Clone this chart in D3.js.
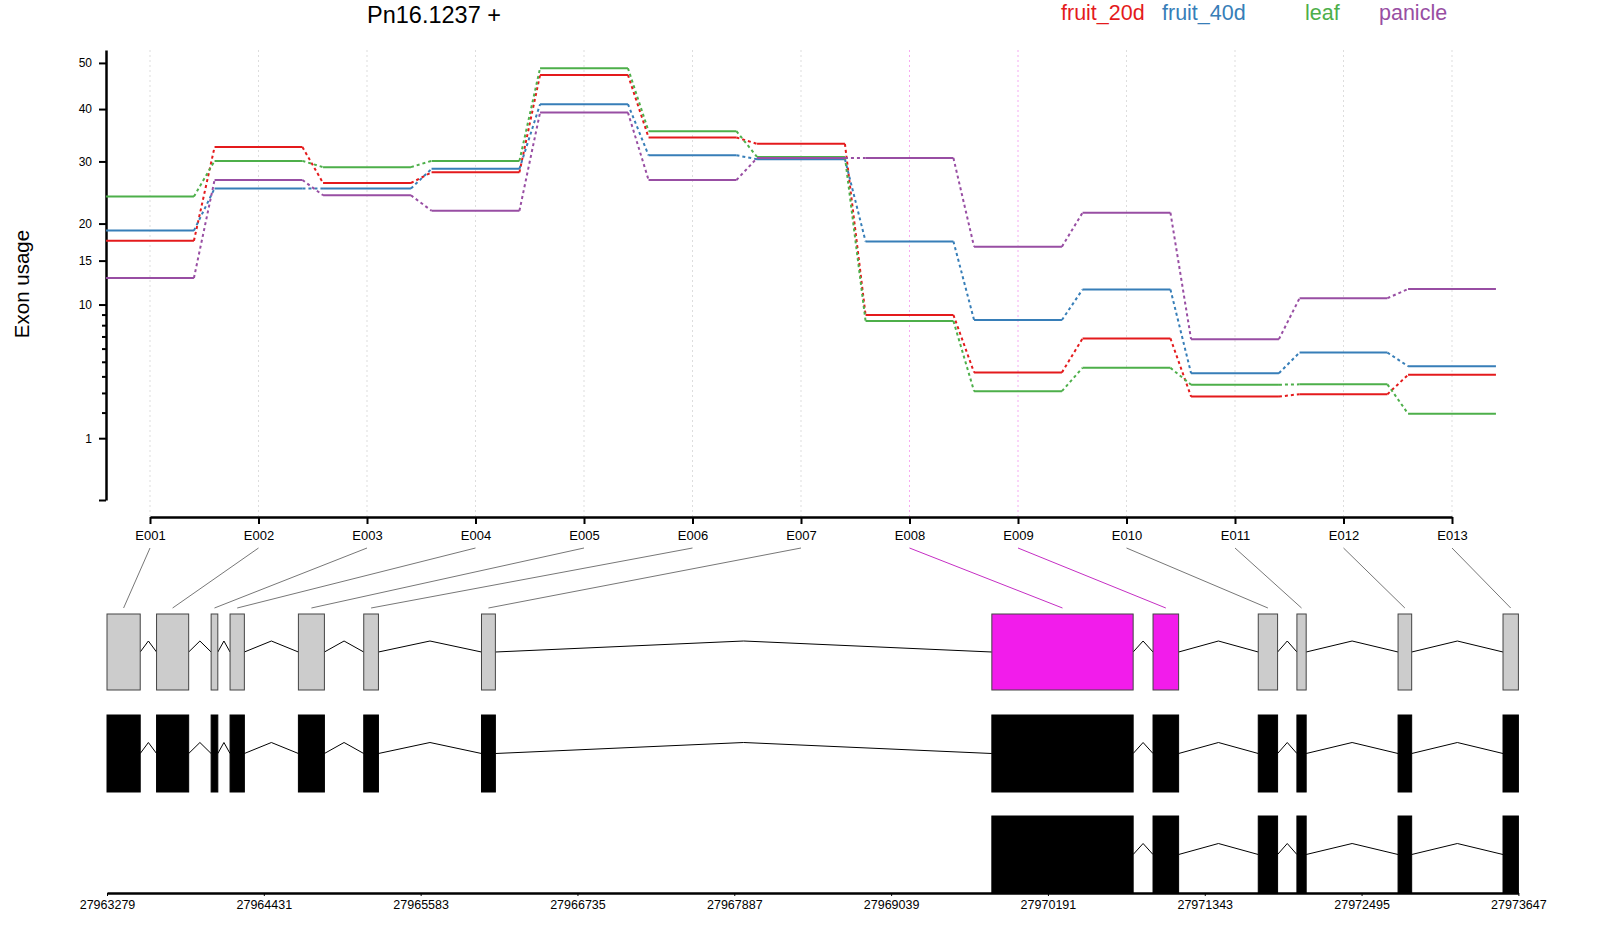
<!DOCTYPE html>
<html>
<head>
<meta charset="utf-8">
<script src="https://cdn.jsdelivr.net/npm/d3@7"></script>
<style>
  html, body { margin: 0; padding: 0; background: #fff; }
  svg { display: block; font-family: "Liberation Sans", Arial, Helvetica, sans-serif; }
</style>
</head>
<body>
<div id="chart"></div>
<script>
// exon bins and per-tissue usage
const exonIds = ['E001', 'E002', 'E003', 'E004', 'E005', 'E006', 'E007', 'E008', 'E009', 'E010', 'E011', 'E012', 'E013'];
const fruit20d = [17.6, 32.6, 26.3, 28.1, 47.3, 34.4, 33.2, 8.96, 4.26, 6.83, 2.80, 2.93, 4.10];
const fruit40d = [19.0, 25.4, 25.4, 28.7, 41.0, 31.1, 30.4, 17.5, 8.48, 11.6, 4.21, 5.69, 4.68];
const leaf = [24.1, 30.1, 29.0, 30.1, 48.8, 35.6, 30.8, 8.38, 3.10, 4.57, 3.48, 3.50, 1.95];
const panicle = [12.9, 26.8, 24.3, 21.9, 39.3, 26.8, 30.6, 30.6, 16.8, 21.6, 6.77, 10.66, 11.65];

const seriesNames = ['fruit_20d', 'fruit_40d', 'leaf', 'panicle'];
const seriesColors = ['#E41A1C', '#377EB8', '#4DAF4A', '#984EA3'];

// genomic coordinates of exon bins
const exonStart = [27963279, 27963643, 27964044, 27964183, 27964685, 27965165, 27966030, 27969779, 27970963, 27971736, 27972020, 27972763, 27973534];
const exonEnd = [27963523, 27963879, 27964093, 27964288, 27964876, 27965273, 27966132, 27970817, 27971151, 27971878, 27972088, 27972863, 27973647];
const significant = ['E008', 'E009'];

// transcripts (indexes into the exon arrays)
const transcripts = [
  [0, 1, 2, 3, 4, 5, 6, 7, 8, 9, 10, 11, 12],
  [7, 8, 9, 10, 11, 12],
];

const yMajorTicks = [0, 1, 10, 15, 20, 30, 40, 50];
const yMinorTicks = [2, 3, 4, 5, 6, 7, 8, 9];
const genomeTicks = [27963279, 27964431, 27965583, 27966735, 27967887, 27969039, 27970191, 27971343, 27972495, 27973647];

const width = 1600, height = 930;
const SIG = '#F21CEB';

const svg = d3.select('#chart').append('svg')
  .attr('width', width)
  .attr('height', height);

const x = d3.scalePoint().domain(exonIds).range([150, 1452]);
const y = d3.scaleSqrt().domain([0, 53]).range([500, 50]);
const half = x.step() * 0.405;

// title + legend
svg.append('text')
  .attr('x', 434).attr('y', 23)
  .attr('text-anchor', 'middle')
  .attr('font-size', 23.5)
  .text('Pn16.1237 +');

const legendX = [1061, 1162, 1305, 1379];
svg.append('g').selectAll('text')
  .data(seriesNames)
  .join('text')
  .attr('x', (d, i) => legendX[i])
  .attr('y', 20)
  .attr('font-size', 21.5)
  .attr('fill', (d, i) => seriesColors[i])
  .text(d => d);

// y label
svg.append('text')
  .attr('transform', 'translate(29,284) rotate(-90)')
  .attr('text-anchor', 'middle')
  .attr('font-size', 20.5)
  .text('Exon usage');

// vertical grid
svg.append('g').selectAll('line')
  .data(exonIds)
  .join('line')
  .attr('x1', d => x(d)).attr('x2', d => x(d))
  .attr('y1', 50).attr('y2', 516)
  .attr('stroke', d => significant.includes(d) ? '#F7A8F2' : '#dddddd')
  .attr('stroke-width', 1)
  .attr('stroke-dasharray', '2,3');

// y axis
const yAxis = svg.append('g')
  .attr('transform', 'translate(106,0)')
  .call(d3.axisLeft(y).tickValues(yMajorTicks).tickSize(7).tickSizeOuter(0)
    .tickFormat(d => d === 0 ? '' : d));
yAxis.select('.domain').attr('stroke-width', 2.5);
yAxis.selectAll('.tick line').attr('stroke-width', 2);
yAxis.selectAll('text').attr('font-size', 12).attr('x', -14)
  .attr('font-family', '"Liberation Sans", Arial, sans-serif');

const yMinor = svg.append('g')
  .attr('transform', 'translate(106,0)')
  .call(d3.axisLeft(y).tickValues(yMinorTicks).tickSize(4).tickFormat(''));
yMinor.select('.domain').remove();
yMinor.selectAll('.tick line').attr('stroke-width', 2);

// x axis (exon bins)
const xAxis = svg.append('g')
  .attr('transform', 'translate(0,517)')
  .call(d3.axisBottom(x).tickSize(7).tickSizeOuter(0));
xAxis.select('.domain').attr('stroke-width', 2.5);
xAxis.selectAll('.tick line').attr('stroke-width', 2);
xAxis.selectAll('text').attr('font-size', 13).attr('y', 14)
  .attr('font-family', '"Liberation Sans", Arial, sans-serif');

// usage lines: solid per bin, dashed between bins
const allSeries = [fruit20d, fruit40d, leaf, panicle];
allSeries.forEach((vals, s) => {
  const g = svg.append('g').attr('stroke', seriesColors[s]).attr('fill', 'none').attr('stroke-width', 2);
  g.selectAll('line.flat')
    .data(vals)
    .join('line')
    .attr('class', 'flat')
    .attr('x1', (d, i) => x(exonIds[i]) - half)
    .attr('x2', (d, i) => x(exonIds[i]) + half)
    .attr('y1', d => y(d)).attr('y2', d => y(d));
  g.selectAll('line.step')
    .data(vals.slice(1))
    .join('line')
    .attr('class', 'step')
    .attr('x1', (d, i) => x(exonIds[i]) + half)
    .attr('y1', (d, i) => y(vals[i]))
    .attr('x2', (d, i) => x(exonIds[i + 1]) - half)
    .attr('y2', d => y(d))
    .attr('stroke-dasharray', '3,3');
});

// gene model
const gx = d3.scaleLinear().domain([genomeTicks[0], genomeTicks[genomeTicks.length - 1]]).range([107, 1518.4]);
const rows = [
  { top: 614, bottom: 690 },
  { top: 715, bottom: 792 },
  { top: 816, bottom: 893 },
];

// connector lines from bin labels to exons
svg.append('g').selectAll('line')
  .data(exonIds)
  .join('line')
  .attr('x1', d => x(d)).attr('y1', 548)
  .attr('x2', (d, i) => gx((exonStart[i] + exonEnd[i]) / 2)).attr('y2', 608)
  .attr('stroke', d => significant.includes(d) ? '#C52EC4' : '#777777')
  .attr('stroke-width', 1);

function drawModel(row, idx, colored) {
  const g = svg.append('g');
  const mid = (row.top + row.bottom) / 2;
  const introns = idx.slice(1).map((e, k) => [idx[k], e]);
  g.selectAll('path')
    .data(introns)
    .join('path')
    .attr('fill', 'none')
    .attr('stroke', '#000')
    .attr('stroke-width', 1)
    .attr('d', ([a, b]) => {
      const x0 = gx(exonEnd[a]), x1 = gx(exonStart[b]);
      return `M${x0},${mid}L${(x0 + x1) / 2},${mid - 11}L${x1},${mid}`;
    });
  g.selectAll('rect')
    .data(idx)
    .join('rect')
    .attr('x', i => gx(exonStart[i]))
    .attr('width', i => gx(exonEnd[i]) - gx(exonStart[i]))
    .attr('y', row.top)
    .attr('height', row.bottom - row.top)
    .attr('fill', i => colored ? (significant.includes(exonIds[i]) ? SIG : '#CCCCCC') : '#000')
    .attr('stroke', colored ? '#444' : '#000')
    .attr('stroke-width', 1);
}

drawModel(rows[0], exonIds.map((d, i) => i), true);
drawModel(rows[1], transcripts[0], false);
drawModel(rows[2], transcripts[1], false);

// genomic axis
const gAxis = svg.append('g')
  .attr('transform', 'translate(0,893)')
  .call(d3.axisBottom(gx).tickValues(genomeTicks).tickSize(3).tickSizeOuter(0).tickFormat(d3.format('d')));
gAxis.select('.domain').attr('stroke-width', 2.5);
gAxis.selectAll('text').attr('font-size', 12.5).attr('y', 7)
  .attr('font-family', '"Liberation Sans", Arial, sans-serif');
</script>
</body>
</html>
